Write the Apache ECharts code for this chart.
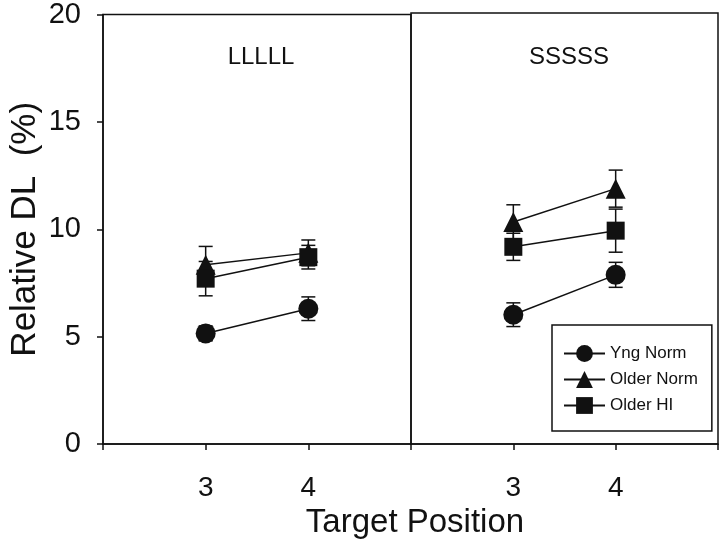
<!DOCTYPE html>
<html>
<head>
<meta charset="utf-8">
<script src="https://cdn.jsdelivr.net/npm/echarts@6/dist/echarts.min.js"></script>
<style>html,body{margin:0;padding:0;background:#fff;}#chart{width:721px;height:540px;}</style>
</head>
<body>
<div id="chart"></div>
<script>
const panels = ['LLLLL', 'SSSSS'];
const positions = [3, 4];
const xTickLabels = ['3', '4'];
const yTicks = [0, 5, 10, 15, 20];
const seriesNames = ['Yng Norm', 'Older Norm', 'Older HI'];
const seriesSymbols = ['circle', 'triangle', 'rect'];
// values[panel][position]
const yngNorm = [[5.15, 6.3], [6.0, 7.85]];
const yngNormErr = [[0.35, 0.55], [0.55, 0.58]];
const olderNorm = [[8.35, 8.9], [10.3, 11.85]];
const olderNormErr = [[0.85, 0.6], [0.8, 0.86]];
const olderHI = [[7.7, 8.7], [9.15, 9.9]];
const olderHIErr = [[0.8, 0.55], [0.63, 1.0]];

const allVals = [yngNorm, olderNorm, olderHI];
const allErrs = [yngNormErr, olderNormErr, olderHIErr];
const symbolSizes = [20, 20, 18];
const FONT = 'Liberation Sans, Arial, sans-serif';
const INK = '#111';

const chart = echarts.init(document.getElementById('chart'), null, {renderer: 'canvas'});

const grids = [
  {left: 103, right: 310, top: 13, bottom: 96},
  {left: 411, right: 3, top: 13, bottom: 96}
].map(g => Object.assign(g, {show: true, borderColor: INK, borderWidth: 1.5, backgroundColor: 'transparent'}));

const xAxes = panels.map((p, i) => ({
  type: 'value', gridIndex: i, min: 2, max: 5, interval: 1,
  axisLine: {show: true, onZero: false, lineStyle: {color: INK, width: 1.5}},
  axisTick: {show: true, inside: false, length: 6, lineStyle: {color: INK, width: 1.5}},
  splitLine: {show: false},
  axisLabel: {
    margin: 30, fontSize: 28, color: INK, fontFamily: FONT,
    formatter: v => { const k = positions.indexOf(v); return k >= 0 ? xTickLabels[k] : ''; }
  }
}));

const yAxes = panels.map((p, i) => ({
  type: 'value', gridIndex: i, min: yTicks[0], max: yTicks[yTicks.length - 1], interval: 5,
  show: i === 0,
  name: i === 0 ? 'Relative DL  (%)' : '',
  nameLocation: 'middle', nameGap: 60, nameRotate: 90,
  nameTextStyle: {fontSize: 35, color: INK, fontFamily: FONT},
  axisLine: {show: true, lineStyle: {color: INK, width: 1.5}},
  axisTick: {show: true, inside: false, length: 6, lineStyle: {color: INK, width: 1.5}},
  splitLine: {show: false},
  axisLabel: {margin: 22, fontSize: 29, color: INK, fontFamily: FONT}
}));

const series = [];
panels.forEach((p, pi) => {
  seriesNames.forEach((name, si) => {
    const errData = positions.map((x, k) => [x, allVals[si][pi][k], allErrs[si][pi][k]]);
    series.push({
      type: 'line', name: name, xAxisIndex: pi, yAxisIndex: pi, z: 3,
      symbol: seriesSymbols[si], symbolSize: symbolSizes[si], showSymbol: true,
      lineStyle: {color: INK, width: 1.5},
      itemStyle: {color: INK, borderColor: INK, borderWidth: 0},
      emphasis: {disabled: true},
      animation: false,
      data: positions.map((x, k) => [x, allVals[si][pi][k]])
    });
    series.push({
      type: 'custom', name: name + ' (error)', xAxisIndex: pi, yAxisIndex: pi, z: 1,
      silent: true, legendHoverLink: false,
      renderItem: function (params, api) {
        const x = api.value(0), y = api.value(1), e = api.value(2);
        const top = api.coord([x, y + e]);
        const bot = api.coord([x, y - e]);
        const hw = 7;
        const style = {stroke: INK, lineWidth: 1.5};
        return {type: 'group', children: [
          {type: 'line', shape: {x1: top[0], y1: top[1], x2: bot[0], y2: bot[1]}, style: style},
          {type: 'line', shape: {x1: top[0] - hw, y1: top[1], x2: top[0] + hw, y2: top[1]}, style: style},
          {type: 'line', shape: {x1: bot[0] - hw, y1: bot[1], x2: bot[0] + hw, y2: bot[1]}, style: style}
        ]};
      },
      data: errData
    });
  });
});

const option = {
  backgroundColor: '#fff',
  animation: false,
  title: [
    {text: panels[0], left: 256, top: 40, textAlign: 'center', textStyle: {fontSize: 24, fontWeight: 'normal', color: INK, fontFamily: FONT}},
    {text: panels[1], left: 564, top: 40, textAlign: 'center', textStyle: {fontSize: 24, fontWeight: 'normal', color: INK, fontFamily: FONT}},
    {text: 'Target Position', left: 410, top: 501, textAlign: 'center', textStyle: {fontSize: 33, fontWeight: 'normal', color: INK, fontFamily: FONT}}
  ],
  legend: {
    data: seriesNames,
    orient: 'vertical', left: 552, top: 325,
    padding: [20, 14, 17, 11],
    itemWidth: 41, itemHeight: 21, itemGap: 9,
    borderColor: INK, borderWidth: 1.5,
    backgroundColor: '#fff',
    selectedMode: false,
    textStyle: {fontSize: 17, color: INK, fontFamily: FONT},
    z: 10
  },
  grid: grids,
  xAxis: xAxes,
  yAxis: yAxes,
  series: series
};
chart.setOption(option);
</script>
</body>
</html>
